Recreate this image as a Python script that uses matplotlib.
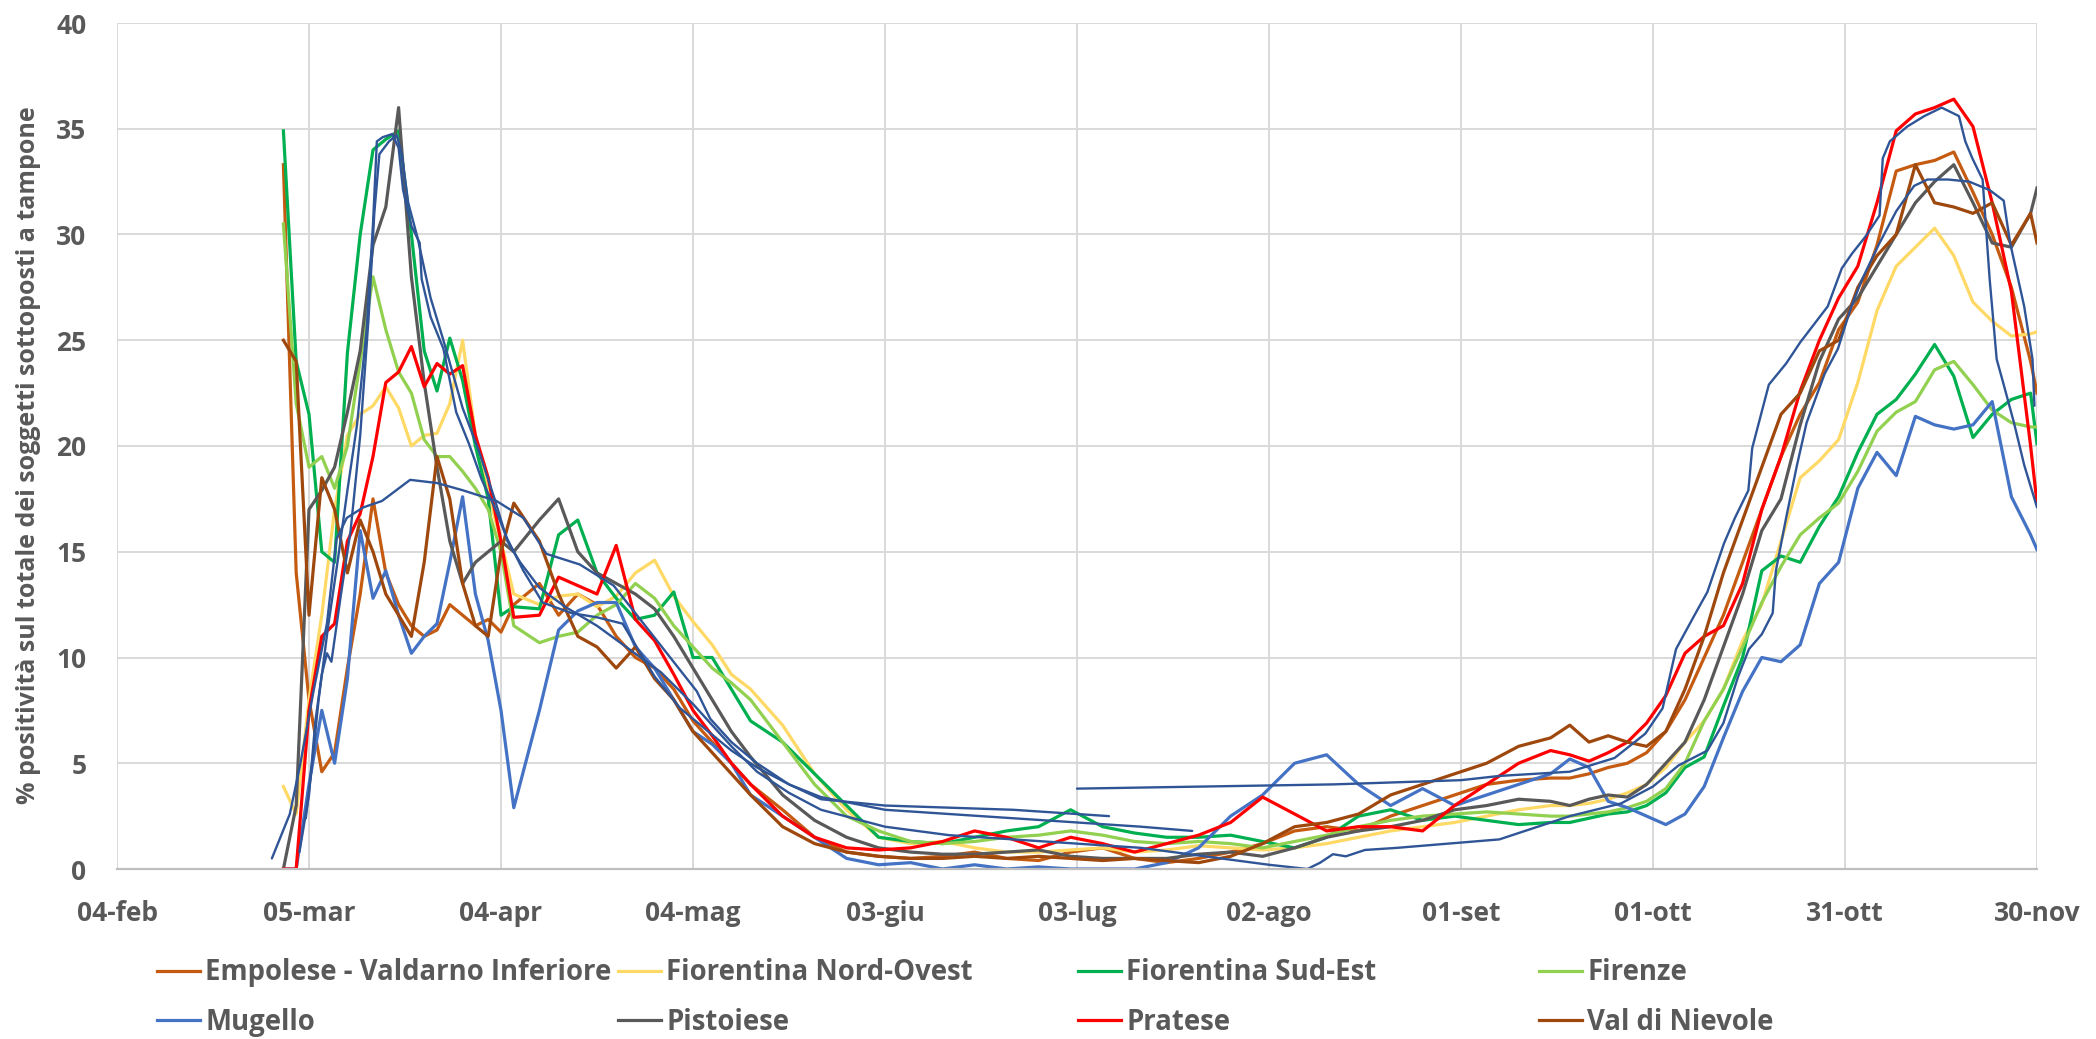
import matplotlib.pyplot as plt

plt.rcParams['font.family'] = ['Open Sans', 'DejaVu Sans']

# days since 04-feb-2020
DAYS = [26, 28, 30, 32, 34, 36, 38, 40, 42, 44, 46, 48, 50, 52, 54, 56, 58, 60,
        62, 66, 69, 72, 75, 78, 81, 84, 87, 90, 93, 96, 99,
        104, 109, 114, 119, 124, 129, 134, 139, 144, 149, 154, 159, 164, 169, 174,
        179, 184, 189, 194, 199, 204, 209, 214, 219, 224,
        227, 230, 233, 236, 239, 242, 245, 248, 251, 254, 257, 260, 263, 266, 269,
        272, 275, 278, 281, 284, 287, 290, 293, 296, 299, 300]

TICK_DAYS = [0, 30, 60, 90, 120, 150, 180, 210, 240, 270, 300]
TICK_LABELS = ["04-feb", "05-mar", "04-apr", "04-mag", "03-giu", "03-lug",
               "02-ago", "01-set", "01-ott", "31-ott", "30-nov"]

EMPOLESE = [33.3, 14.0, 8.0, 4.6, 5.5, 9.5, 13.0, 17.5, 14.0, 12.5, 11.5, 11.0, 11.3, 12.5, 12.0, 11.5, 11.8, 11.2,
            12.5, 13.5, 12.0, 13.0, 12.5, 11.0, 10.0, 9.5, 8.5, 7.0, 6.0, 5.0, 4.0,
            2.8, 1.5, 0.8, 0.6, 0.5, 0.6, 0.8, 0.5, 0.4, 0.8, 1.0, 0.5, 0.3, 0.5, 0.8, 1.2, 1.8, 2.0, 1.8, 2.5,
            3.0, 3.5, 4.0, 4.2, 4.3,
            4.3, 4.5, 4.8, 5.0, 5.5, 6.5, 8.0, 10.0, 12.0, 14.5, 17.0, 19.5, 21.5, 23.0, 25.5, 26.8, 29.5,
            33.0, 33.3, 33.5, 33.9, 32.0, 30.0, 27.5, 24.0, 22.5]
NORD_OVEST = [3.9, 2.6, 8.0, 12.0, 17.0, 20.5, 21.5, 21.9, 22.8, 21.8, 20.0, 20.5, 20.6, 22.0, 25.0, 20.5, 17.8, 15.5,
              13.0, 12.5, 12.9, 13.0, 12.4, 12.9, 14.0, 14.6, 12.9, 11.7, 10.6, 9.2, 8.5,
              6.8, 4.5, 2.8, 1.5, 1.2, 1.3, 1.0, 0.8, 0.8, 0.9, 1.0, 0.8, 0.9, 1.1, 1.0, 0.9, 1.0, 1.2, 1.5, 1.8,
              2.0, 2.2, 2.5, 2.8, 3.0,
              3.0, 3.1, 3.3, 3.6, 4.0, 4.8, 6.0, 7.0, 8.5, 10.8, 12.5, 15.5, 18.5, 19.3, 20.3, 23.0, 26.4,
              28.5, 29.4, 30.3, 29.0, 26.8, 25.9, 25.2, 25.3, 25.4]
SUD_EST = [34.9, 24.0, 21.5, 15.0, 14.5, 24.4, 30.0, 34.0, 34.5, 34.9, 30.0, 24.5, 22.6, 25.1, 23.1, 20.0, 17.5, 12.0,
           12.4, 12.3, 15.8, 16.5, 14.0, 12.8, 11.8, 12.0, 13.1, 10.0, 10.0, 8.5, 7.0,
           6.0, 4.5, 3.0, 1.5, 1.3, 1.2, 1.5, 1.8, 2.0, 2.8, 2.0, 1.7, 1.5, 1.5, 1.6, 1.3, 1.0, 1.5, 2.5, 2.8,
           2.3, 2.5, 2.3, 2.1, 2.2,
           2.2, 2.4, 2.6, 2.7, 3.0, 3.6, 4.8, 5.3, 7.7, 10.0, 14.1, 14.8, 14.5, 16.2, 17.6, 19.7, 21.5,
           22.2, 23.4, 24.8, 23.3, 20.4, 21.5, 22.2, 22.5, 20.1]
FIRENZE = [30.5, 22.0, 19.0, 19.5, 18.0, 20.0, 24.0, 28.0, 25.5, 23.5, 22.5, 20.3, 19.5, 19.5, 18.8, 18.0, 17.0, 15.0,
           11.5, 10.7, 11.0, 11.2, 12.0, 12.5, 13.5, 12.8, 11.5, 10.5, 9.5, 8.8, 8.0,
           6.0, 4.0, 2.5, 1.8, 1.3, 1.2, 1.3, 1.5, 1.6, 1.8, 1.6, 1.3, 1.2, 1.3, 1.2, 1.0, 1.3, 1.6, 2.0, 2.3,
           2.5, 2.6, 2.7, 2.6, 2.5,
           2.5, 2.6, 2.7, 2.9, 3.2, 3.8, 5.0, 7.0, 8.5, 10.5, 12.6, 14.3, 15.8, 16.6, 17.3, 18.8, 20.7,
           21.6, 22.1, 23.6, 24.0, 22.9, 21.7, 21.1, 20.9, 20.9]
MUGELLO = [0.0, 0.0, 4.0, 7.5, 5.0, 9.0, 16.0, 12.8, 14.1, 12.0, 10.2, 11.0, 11.6, 14.5, 17.6, 13.0, 10.8, 7.5,
           2.9, 7.5, 11.3, 12.2, 12.6, 12.6, 10.5, 9.5, 8.0, 6.5, 5.9, 5.0, 3.5,
           2.5, 1.5, 0.5, 0.2, 0.3, 0.0, 0.2, 0.0, 0.1, 0.0, 0.0, 0.0, 0.3, 1.0, 2.5, 3.5, 5.0, 5.4, 4.0, 3.0,
           3.8, 3.0, 3.5, 4.0, 4.5,
           5.2, 4.8, 3.2, 2.9, 2.5, 2.1, 2.6, 3.9, 6.2, 8.4, 10.0, 9.8, 10.6, 13.5, 14.5, 18.0, 19.7,
           18.6, 21.4, 21.0, 20.8, 21.0, 22.1, 17.6, 15.8, 15.1]
PISTOIESE = [0.0, 3.0, 17.0, 17.9, 19.0, 21.6, 24.5, 29.5, 31.3, 36.0, 28.0, 23.0, 19.0, 15.5, 13.5, 14.5, 15.0, 15.5,
             15.0, 16.5, 17.5, 15.0, 14.0, 13.5, 13.0, 12.3, 11.0, 9.5, 8.0, 6.5, 5.3,
             3.5, 2.3, 1.5, 1.0, 0.8, 0.7, 0.7, 0.8, 0.9, 0.6, 0.5, 0.5, 0.5, 0.7, 0.8, 0.6, 1.0, 1.5, 1.8, 2.0,
             2.3, 2.8, 3.0, 3.3, 3.2,
             3.0, 3.3, 3.5, 3.4, 4.0, 5.0, 6.0, 8.0, 10.5, 13.0, 16.0, 17.5, 21.0, 24.0, 26.0, 27.0, 28.5,
             30.0, 31.5, 32.5, 33.3, 31.5, 29.6, 29.4, 31.0, 32.2]
PRATESE = [0.0, 0.0, 7.5, 11.0, 11.6, 15.5, 16.8, 19.5, 23.0, 23.5, 24.7, 22.8, 23.9, 23.4, 23.8, 20.5, 18.5, 15.5,
           11.9, 12.0, 13.8, 13.4, 13.0, 15.3, 11.8, 10.8, 9.2, 7.5, 6.3, 5.0, 4.0,
           2.5, 1.5, 1.0, 0.9, 1.0, 1.3, 1.8, 1.5, 1.0, 1.5, 1.2, 0.8, 1.2, 1.6, 2.2, 3.4, 2.6, 1.8, 2.0, 2.0,
           1.8, 3.0, 4.0, 5.0, 5.6,
           5.4, 5.1, 5.5, 6.0, 6.9, 8.2, 10.2, 11.0, 11.5, 13.5, 17.0, 19.5, 22.6, 25.0, 27.0, 28.5, 31.5,
           34.9, 35.7, 36.0, 36.4, 35.1, 31.5, 27.3, 20.0, 17.3]
VAL_DI_NIEVOLE = [25.0, 24.0, 12.0, 18.5, 17.0, 14.0, 16.5, 15.0, 13.0, 12.0, 11.0, 14.5, 19.5, 17.5, 13.5, 11.5, 11.0, 15.0,
                  17.3, 15.5, 13.0, 11.0, 10.5, 9.5, 10.5, 9.0, 8.0, 6.5, 5.5, 4.5, 3.5,
                  2.0, 1.2, 0.8, 0.6, 0.5, 0.5, 0.6, 0.5, 0.6, 0.5, 0.4, 0.5, 0.4, 0.3, 0.6, 1.2, 2.0, 2.2, 2.6, 3.5,
                  4.0, 4.5, 5.0, 5.8, 6.2,
                  6.8, 6.0, 6.3, 6.0, 5.8, 6.5, 8.5, 11.0, 14.0, 16.5, 19.0, 21.5, 22.5, 24.5, 25.0, 27.5, 29.0,
                  30.0, 33.3, 31.5, 31.3, 31.0, 31.5, 29.5, 31.0, 29.6]

NAMES = ["Empolese - Valdarno Inferiore", "Fiorentina Nord-Ovest", "Fiorentina Sud-Est", "Firenze",
         "Mugello", "Pistoiese", "Pratese", "Val di Nievole"]
COLORS = ["#C55A11", "#FFD966", "#00B050", "#92D050", "#4472C4", "#595959", "#FF0000", "#9E480E"]

# hand drawn navy strokes over the chart
STROKE_A_DAYS = [29.5, 30.5, 31.5, 33, 34.5, 36, 37.5, 39, 40, 40.6, 41.5, 43, 44, 44.7, 46, 47.3, 47.6, 49, 51,
                 53, 55, 57, 59, 61, 63.5, 66.5, 71, 75, 79, 82, 84, 88, 92, 96, 100, 105, 110, 120, 130, 140,
                 150, 160, 168]
STROKE_A_VALS = [2.4, 5.0, 8.0, 11.5, 14.6, 17.9, 21.0, 25.5, 30.5, 34.4, 34.6, 34.75, 34.1, 32.1, 30.4, 29.6,
                 27.9, 26.1, 24.6, 21.6, 20.1, 18.4, 17.1, 15.6, 14.1, 12.6, 12.1, 11.9, 11.6, 10.1, 9.1, 7.6,
                 6.6, 5.6, 4.8, 4.0, 3.4, 2.8, 2.6, 2.4, 2.2, 2.0, 1.8]
STROKE_B_DAYS = [28.5, 30, 31, 32, 32.8, 33.5, 35, 36.5, 38, 39.3, 40.2, 41, 42.5, 43.7, 44.5, 45.5, 47, 49,
                 51, 54, 56.5, 59, 61, 63, 66, 70, 75, 80, 85, 90, 93, 96, 100, 105, 110, 120, 130, 140, 150,
                 160, 170, 180, 186, 188, 190, 192, 195, 200, 208, 216, 227, 235, 240, 244, 248.5, 251, 253.3,
                 255, 257, 258.7, 259.2, 260.8, 262.5, 264, 266.8, 268.9, 271, 272.7, 275.4, 278, 280.8,
                 282.9, 286.1, 289.4, 292.6, 294.8, 295.8, 298, 299.3, 299.6]
STROKE_B_VALS = [0.8, 3.5, 7.0, 9.2, 10.2, 9.8, 13.0, 16.0, 20.5, 26.0, 31.0, 33.8, 34.4, 34.7, 33.8, 31.5,
                 29.8, 27.0, 25.0, 21.8, 19.8, 17.5, 15.5, 14.5, 13.3, 12.4, 11.5, 10.4, 9.3, 7.8, 6.8, 5.8,
                 4.6, 3.6, 2.8, 2.0, 1.6, 1.4, 1.2, 1.0, 0.6, 0.2, 0.0, 0.3, 0.7, 0.6, 0.9, 1.0, 1.2, 1.4,
                 2.5, 3.1, 3.9, 4.9, 5.6, 6.9, 9.1, 10.4, 11.1, 12.1, 14.1, 16.6, 19.1, 21.1, 23.4, 24.6,
                 26.6, 27.9, 29.6, 31.1, 32.3, 32.6, 32.6, 32.5, 32.1, 31.6, 29.6, 26.6, 24.1, 21.9]
STROKE_C_DAYS = [24.2, 27, 28.6, 30.7, 32.8, 34.3, 35.9, 38.5, 41.4, 45.8, 50, 54.1, 59.3, 63.5, 65.6, 67.1,
                 72.3, 77.6, 80.2, 85.4, 90.6, 92.7, 96, 100, 105, 110, 120, 130, 140, 150, 155]
STROKE_C_VALS = [0.5, 2.6, 4.9, 8.4, 11.6, 15.6, 16.6, 17.1, 17.4, 18.4, 18.25, 17.9, 17.4, 16.6, 15.6, 14.9,
                 14.4, 13.4, 12.4, 10.4, 8.4, 7.1, 6.0, 5.0, 4.0, 3.3, 3.0, 2.9, 2.8, 2.6, 2.5]
STROKE_D_DAYS = [150, 170, 190, 210, 216, 227, 234, 238.8, 241.5, 243.6, 246.3, 248.5, 251.1, 252.8, 254.9,
                 255.5, 258.1, 260.8, 263, 267.3, 269.5, 271.1, 273.2, 275.4, 275.9, 277, 279.7, 282.4,
                 285.1, 287.8, 288.8, 289.9, 291.5, 292.6, 293.7, 294.8, 296.4, 298, 300]
STROKE_D_VALS = [3.8, 3.9, 4.0, 4.2, 4.4, 4.6, 5.25, 6.4, 7.6, 10.4, 11.9, 13.1, 15.4, 16.6, 17.9, 19.9, 22.9,
                 23.9, 24.9, 26.6, 28.4, 29.1, 29.9, 30.9, 33.6, 34.4, 35.1, 35.6, 36.0, 35.6, 34.4, 33.6,
                 32.6, 27.9, 24.1, 22.9, 21.1, 19.1, 17.1]

STROKES = [(STROKE_A_DAYS, STROKE_A_VALS), (STROKE_B_DAYS, STROKE_B_VALS),
           (STROKE_C_DAYS, STROKE_C_VALS), (STROKE_D_DAYS, STROKE_D_VALS)]

TEXT = "#595959"

fig = plt.figure(figsize=(20.96, 10.39), dpi=100)
ax = fig.add_axes([117 / 2096, 1 - 869 / 1039, 1920 / 2096, 846 / 1039])

series = [EMPOLESE, NORD_OVEST, SUD_EST, FIRENZE, MUGELLO, PISTOIESE, PRATESE, VAL_DI_NIEVOLE]
handles = []
for name, vals, color in zip(NAMES, series, COLORS):
    ln, = ax.plot(DAYS, vals, color=color, lw=2.3, label=name, solid_joinstyle="round")
    handles.append(ln)

for days, vals in STROKES:
    ax.plot(days, vals, color="#2F5597", lw=1.7, solid_capstyle="round")

ax.set_xlim(0, 300)
ax.set_ylim(0, 40)
ax.set_xticks(TICK_DAYS)
ax.set_xticklabels(TICK_LABELS)
ax.set_yticks(range(0, 41, 5))
ax.grid(color="#D9D9D9", lw=1.4)
ax.set_axisbelow(True)
for side in ["top", "right", "left"]:
    ax.spines[side].set_visible(False)
ax.spines["bottom"].set_color("#BFBFBF")
ax.spines["bottom"].set_linewidth(1.6)
ax.tick_params(length=0, labelsize=19, labelcolor=TEXT)
ax.tick_params(axis="x", pad=22)
ax.tick_params(axis="y", pad=22)
for lab in ax.get_xticklabels() + ax.get_yticklabels():
    lab.set_fontweight("bold")

fig.text(29 / 2096, 1 - 455 / 1039, "% positività sul totale dei soggetti sottoposti a tampone",
         rotation=90, ha="center", va="center", fontsize=18, fontweight="bold", color=TEXT)

# four legend columns, two entries each
col_x = [157, 618, 1078, 1539]
for i, x in enumerate(col_x):
    leg = fig.legend([handles[i], handles[i + 4]], [NAMES[i], NAMES[i + 4]],
                     loc="center left", bbox_to_anchor=(x / 2096, 1 - 997.5 / 1039),
                     frameon=False, borderpad=0, borderaxespad=0, handlelength=1.55,
                     handletextpad=0.2, labelspacing=0.75,
                     prop={"size": 19.8, "weight": "bold"})
    for t in leg.get_texts():
        t.set_color(TEXT)

fig.savefig("out.png", dpi=100)
